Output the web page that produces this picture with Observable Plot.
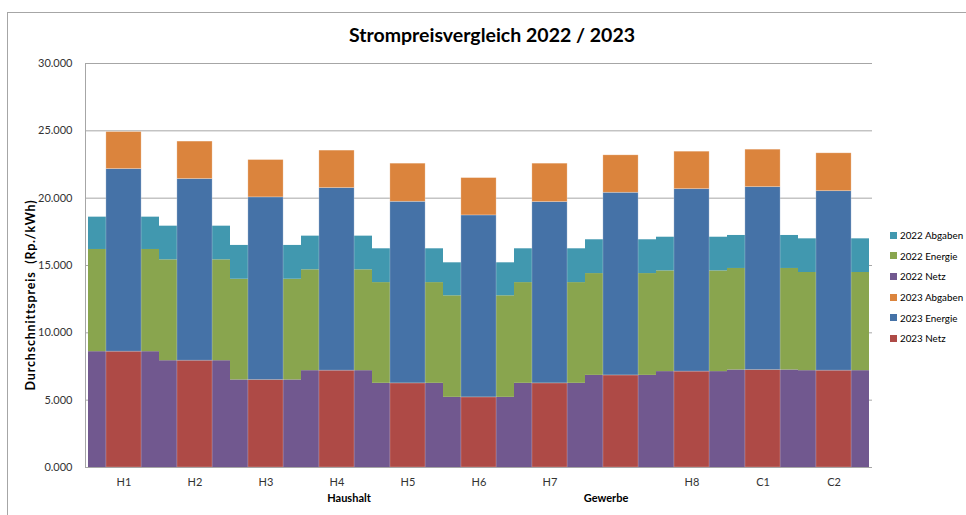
<!DOCTYPE html>
<html>
<head>
<meta charset="utf-8">
<script src="https://cdn.jsdelivr.net/npm/d3@7"></script>
<script src="https://cdn.jsdelivr.net/npm/@observablehq/plot@0.6"></script>
<style>
  body { margin: 0; background: #fff; font-family: Lato, "DejaVu Sans", sans-serif; }
  #wrap { position: relative; width: 966px; height: 515px; overflow: hidden; background: #fff; }
  #border { position: absolute; left: 7px; top: 12px; width: 970px; height: 520px; border-left: 1px solid #a6a6a6; border-top: 1px solid #a6a6a6; box-sizing: border-box; pointer-events: none; }
  #chart { position: absolute; left: 0; top: 0; }
  #title { position: absolute; left: 0; width: 984px; top: 22px; text-align: center; font-weight: 700; font-size: 19.5px; color: #000; line-height: 26px; }
  #ylabel { position: absolute; left: 30px; top: 295px; transform: translate(-50%, -50%) rotate(-90deg); white-space: nowrap; font-weight: 700; font-size: 12.5px; letter-spacing: 0.8px; color: #000; }
  #legend { position: absolute; left: 890px; top: 225px; font-size: 9.8px; color: #000; }
  .li { height: 20.6px; display: flex; align-items: center; white-space: nowrap; }
  .sw { width: 7px; height: 7px; margin-right: 3px; display: inline-block; }
</style>
</head>
<body>
<div id="wrap">
  <div id="chart"></div>
  <div id="title"></div>
  <div id="ylabel"></div>
  <div id="legend"></div>
  <div id="border"></div>
</div>
<script>
// ---------- data (values in Rp./kWh) ----------
const categories  = ["H1","H2","H3","H4","H5","H6","H7","G0","H8","C1","C2"];
const tickLabels  = ["H1","H2","H3","H4","H5","H6","H7","",  "H8","C1","C2"];

const netz2022    = [8.60, 7.93, 6.50, 7.19, 6.25, 5.21, 6.25, 6.84, 7.12, 7.24, 7.19];
const energie2022 = [7.59, 7.49, 7.48, 7.49, 7.48, 7.54, 7.48, 7.56, 7.48, 7.54, 7.29];
const abgaben2022 = [2.40, 2.50, 2.51, 2.50, 2.51, 2.45, 2.51, 2.51, 2.50, 2.45, 2.50];

const netz2023    = [8.60, 7.93, 6.50, 7.19, 6.25, 5.21, 6.25, 6.84, 7.12, 7.24, 7.19];
const energie2023 = [13.56, 13.49, 13.56, 13.56, 13.48, 13.51, 13.46, 13.56, 13.55, 13.58, 13.33];
const abgaben2023 = [2.75, 2.78, 2.77, 2.78, 2.83, 2.77, 2.85, 2.78, 2.78, 2.78, 2.81];

const seriesNames = ["2022 Abgaben","2022 Energie","2022 Netz","2023 Abgaben","2023 Energie","2023 Netz"];
const seriesColors = ["#4198AF","#89A54E","#71588F","#DB843D","#4572A7","#AE4A46"];

const yTicks = [0, 5, 10, 15, 20, 25, 30];
const groupLabels = ["Haushalt", "Gewerbe"];
const groupAnchors = ["H4", "G0"];

const titleText = "Strompreisvergleich 2022 / 2023";
const yLabelText = "Durchschnittspreis\u00a0\u00a0(Rp./kWh)";

// ---------- build tables ----------
const rows2022 = [];
const rows2023 = [];
categories.forEach((c, i) => {
  rows2022.push({cat: c, series: "2022 Netz", value: netz2022[i]});
  rows2022.push({cat: c, series: "2022 Energie", value: energie2022[i]});
  rows2022.push({cat: c, series: "2022 Abgaben", value: abgaben2022[i]});
  rows2023.push({cat: c, series: "2023 Netz", value: netz2023[i]});
  rows2023.push({cat: c, series: "2023 Energie", value: energie2023[i]});
  rows2023.push({cat: c, series: "2023 Abgaben", value: abgaben2023[i]});
});

const W = 966, H = 515;
const mL = 85, mR = 94, mT = 63, mB = 48;
const band = (W - mL - mR) / categories.length;
const inset = band / 4;

const chart = Plot.plot({
  width: W, height: H,
  marginLeft: mL, marginRight: mR, marginTop: mT, marginBottom: mB,
  style: {fontFamily: "Lato, 'DejaVu Sans', sans-serif", fontSize: "11px", color: "#333", background: "transparent"},
  x: {type: "band", domain: categories, padding: 0, axis: null},
  y: {domain: [0, 30], axis: null},
  color: {domain: seriesNames, range: seriesColors},
  marks: [
    Plot.ruleY(yTicks.filter(d => d > 0), {stroke: "#a6a6a6", strokeWidth: 1}),
    Plot.barY(rows2022, {x: "cat", y: "value", fill: "series"}),
    Plot.barY(rows2023, {x: "cat", y: "value", fill: "series", insetLeft: inset, insetRight: inset,
      stroke: "#ffffff", strokeOpacity: 0.3, strokeWidth: 0.8}),
    Plot.ruleY([0], {stroke: "#a6a6a6", strokeWidth: 1}),
    Plot.frame({anchor: "left", stroke: "#a6a6a6"}),
    Plot.axisY({ticks: yTicks, tickFormat: d3.format(".3f"), tickSize: 0, tickPadding: 13, label: null, fill: "#333", fontSize: 11}),
    Plot.axisX({tickSize: 0, tickPadding: 11, label: null, tickFormat: d => tickLabels[categories.indexOf(d)], fill: "#333", fontSize: 11}),
    Plot.text([groupLabels[0]], {x: () => groupAnchors[0], text: d => d, frameAnchor: "bottom", dy: 34, dx: 12, fontWeight: "bold", fontSize: 11, fill: "#000"}),
    Plot.text([groupLabels[1]], {x: () => groupAnchors[1], text: d => d, frameAnchor: "bottom", dy: 34, dx: -15, fontWeight: "bold", fontSize: 11, fill: "#000"})
  ]
});
document.getElementById("chart").appendChild(chart);

document.getElementById("title").textContent = titleText;
document.getElementById("ylabel").textContent = yLabelText;

const legend = document.getElementById("legend");
seriesNames.forEach((s, i) => {
  const row = document.createElement("div");
  row.className = "li";
  const sw = document.createElement("span");
  sw.className = "sw";
  sw.style.background = seriesColors[i];
  const t = document.createElement("span");
  t.textContent = s;
  row.appendChild(sw);
  row.appendChild(t);
  legend.appendChild(row);
});
</script>
</body>
</html>
